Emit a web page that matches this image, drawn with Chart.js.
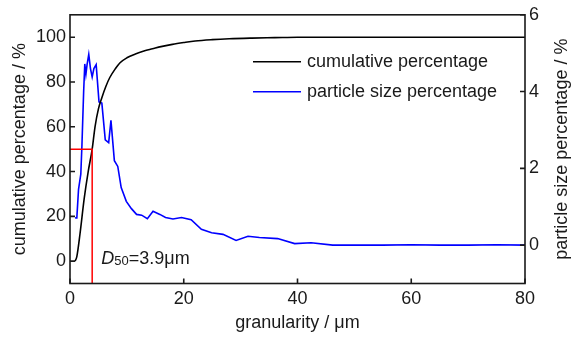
<!DOCTYPE html>
<html><head><meta charset="utf-8">
<script src="https://cdn.jsdelivr.net/npm/chart.js@4"></script>
<style>html,body{margin:0;padding:0;background:#fff;}#wrap{width:572px;height:338px;position:relative;}</style>
</head><body><div id="wrap"><canvas id="c"></canvas></div>
<script>
// ---- data ----
const cumX = [0.9, 1.2, 1.75, 2.5, 3.2, 3.9, 4.4, 5.0, 5.6, 6.3, 7.0, 8.0, 8.8, 10.0, 11.5, 13.0, 14.5, 16.0, 18.0, 20.0, 22.0, 25.0, 28.0, 32.0, 36.0, 40.0, 50.0, 60.0, 70.0, 80.0];
const cumY = [0, 2, 12, 28, 40, 50, 60, 68, 73, 78, 82, 86, 88.6, 90.8, 92.5, 93.8, 94.8, 95.8, 96.8, 97.6, 98.3, 98.9, 99.3, 99.6, 99.8, 100, 100, 100, 100, 100];
const psdX = [0.9, 1.2, 1.5, 1.9, 2.1, 2.4, 2.6, 2.8, 3.0, 3.3, 3.6, 3.9, 4.2, 4.6, 5.1, 5.6, 6.2, 6.8, 7.2, 7.8, 8.4, 9.0, 9.9, 10.8, 11.7, 12.6, 13.6, 14.6, 15.8, 16.8, 18.1, 19.6, 21.3, 23.1, 24.9, 26.9, 29.2, 31.3, 33.3, 36.5, 39.5, 42.4, 46.2, 50, 55, 60, 65, 70, 75, 80];
const psdY = [0.71, 0.71, 1.45, 1.85, 2.6, 4.0, 4.72, 4.45, 4.7, 4.97, 4.6, 4.38, 4.6, 4.7, 3.73, 3.7, 2.74, 2.67, 3.25, 2.2, 2.05, 1.5, 1.14, 0.95, 0.8, 0.78, 0.69, 0.88, 0.8, 0.72, 0.68, 0.72, 0.66, 0.41, 0.32, 0.28, 0.12, 0.23, 0.2, 0.17, 0.04, 0.06, 0.0, 0.0, 0.0, 0.01, 0.0, 0.0, 0.01, 0.0];
const xTicks = [0, 20, 40, 60, 80];
const leftTicks = [0, 20, 40, 60, 80, 100];
const rightTicks = [0, 2, 4, 6];
const seriesNames = ['cumulative percentage', 'particle size percentage'];
const d50Value = 3.9;
const d50Cum = 50;
const d50Label = ['D', '50', '=3.9\u03bcm'];
const xTitle = 'granularity / \u03bcm';
const leftTitle = 'cumulative percentage / %';
const rightTitle = 'particle size percentage / %';

const FONT = "'Liberation Sans', Arial, sans-serif";
const FS = 18;
const INK = '#1a1a1a';

const cumPts = cumX.map((x, i) => ({x, y: cumY[i]}));
const psdPts = psdX.map((x, i) => ({x, y: psdY[i]}));
const d50Pts = [{x: 0, y: d50Cum}, {x: d50Value, y: d50Cum}, {x: d50Value, y: -10}];

const fixTicks = list => scale => { scale.ticks = list.map(v => ({value: v})); };

const decor = {
  id: 'decor',
  afterDatasetsDraw(chart) {
    const ctx = chart.ctx, a = chart.chartArea;
    const xs = chart.scales.x, yl = chart.scales.yL, yr = chart.scales.yR;
    ctx.save();
    // frame
    ctx.strokeStyle = INK; ctx.lineWidth = 1.6;
    ctx.strokeRect(a.left, a.top, a.right - a.left, a.bottom - a.top);
    // inward ticks
    ctx.beginPath();
    leftTicks.forEach(v => { const y = yl.getPixelForValue(v); ctx.moveTo(a.left, y); ctx.lineTo(a.left + 5, y); });
    rightTicks.forEach(v => { const y = yr.getPixelForValue(v); ctx.moveTo(a.right, y); ctx.lineTo(a.right - 5, y); });
    xTicks.forEach(v => { const x = xs.getPixelForValue(v); ctx.moveTo(x, a.bottom); ctx.lineTo(x, a.bottom - 5); });
    ctx.stroke();
    // legend
    const lx = a.left + 183, ly1 = a.top + 47, ly2 = a.top + 77;
    ctx.lineWidth = 1.5;
    ctx.strokeStyle = '#000'; ctx.beginPath(); ctx.moveTo(lx, ly1); ctx.lineTo(lx + 48, ly1); ctx.stroke();
    ctx.strokeStyle = '#0000ff'; ctx.beginPath(); ctx.moveTo(lx, ly2); ctx.lineTo(lx + 48, ly2); ctx.stroke();
    ctx.fillStyle = INK; ctx.font = FS + 'px ' + FONT; ctx.textBaseline = 'middle'; ctx.textAlign = 'left';
    ctx.fillText(seriesNames[0], lx + 54, ly1);
    ctx.fillText(seriesNames[1], lx + 54, ly2);
    // D50 label
    let tx = xs.getPixelForValue(5.5), ty = yl.getPixelForValue(-1.5);
    ctx.textBaseline = 'alphabetic';
    ctx.font = 'italic ' + FS + 'px ' + FONT; ctx.fillText(d50Label[0], tx, ty); tx += ctx.measureText(d50Label[0]).width;
    ctx.font = '13px ' + FONT; ctx.fillText(d50Label[1], tx, ty + 1); tx += ctx.measureText(d50Label[1]).width;
    ctx.font = FS + 'px ' + FONT; ctx.fillText(d50Label[2], tx, ty);
    // right title (reads bottom to top)
    ctx.save();
    ctx.translate(chart.width - 10, (a.top + a.bottom) / 2);
    ctx.rotate(-Math.PI / 2);
    ctx.textAlign = 'center'; ctx.textBaseline = 'middle'; ctx.font = FS + 'px ' + FONT;
    ctx.fillText(rightTitle, 0, 0);
    ctx.restore();
    ctx.restore();
  }
};

new Chart(document.getElementById('c'), {
  type: 'line',
  data: {
    datasets: [
      {label: 'D50', data: d50Pts, yAxisID: 'yL', borderColor: '#ff0000', borderWidth: 1.5, pointRadius: 0, tension: 0},
      {label: seriesNames[0], data: cumPts, yAxisID: 'yL', borderColor: '#000000', borderWidth: 1.6, pointRadius: 0, tension: 0.3, cubicInterpolationMode: 'monotone'},
      {label: seriesNames[1], data: psdPts, yAxisID: 'yR', borderColor: '#0000ff', borderWidth: 1.6, pointRadius: 0, tension: 0}
    ]
  },
  options: {
    responsive: true, maintainAspectRatio: false, animation: false,
    layout: {padding: {top: 12.5, left: 0, right: 0, bottom: 0}},
    plugins: {legend: {display: false}, tooltip: {enabled: false}},
    scales: {
      x: {
        type: 'linear', min: 0, max: 80, position: 'bottom',
        afterBuildTicks: fixTicks(xTicks),
        afterFit: s => { s.height = 54.5; },
        grid: {display: false, drawTicks: false}, border: {display: false},
        ticks: {color: INK, font: {family: FONT, size: FS}, padding: 5, maxRotation: 0},
        title: {display: true, text: xTitle, color: INK, font: {family: FONT, size: FS}, padding: {top: 2, bottom: 4}}
      },
      yL: {
        type: 'linear', position: 'left', min: -10, max: 110,
        afterBuildTicks: fixTicks(leftTicks),
        afterFit: s => { s.width = 70; },
        grid: {display: false, drawTicks: false}, border: {display: false},
        ticks: {color: INK, font: {family: FONT, size: FS}, padding: 4},
        title: {display: true, text: leftTitle, color: INK, font: {family: FONT, size: FS}, padding: {top: 9, bottom: 0}}
      },
      yR: {
        type: 'linear', position: 'right', min: -1, max: 6,
        afterBuildTicks: fixTicks(rightTicks),
        afterFit: s => { s.width = 47; },
        grid: {display: false, drawTicks: false}, border: {display: false},
        ticks: {color: INK, font: {family: FONT, size: FS}, padding: 4}
      }
    }
  },
  plugins: [decor]
});
</script></body></html>
